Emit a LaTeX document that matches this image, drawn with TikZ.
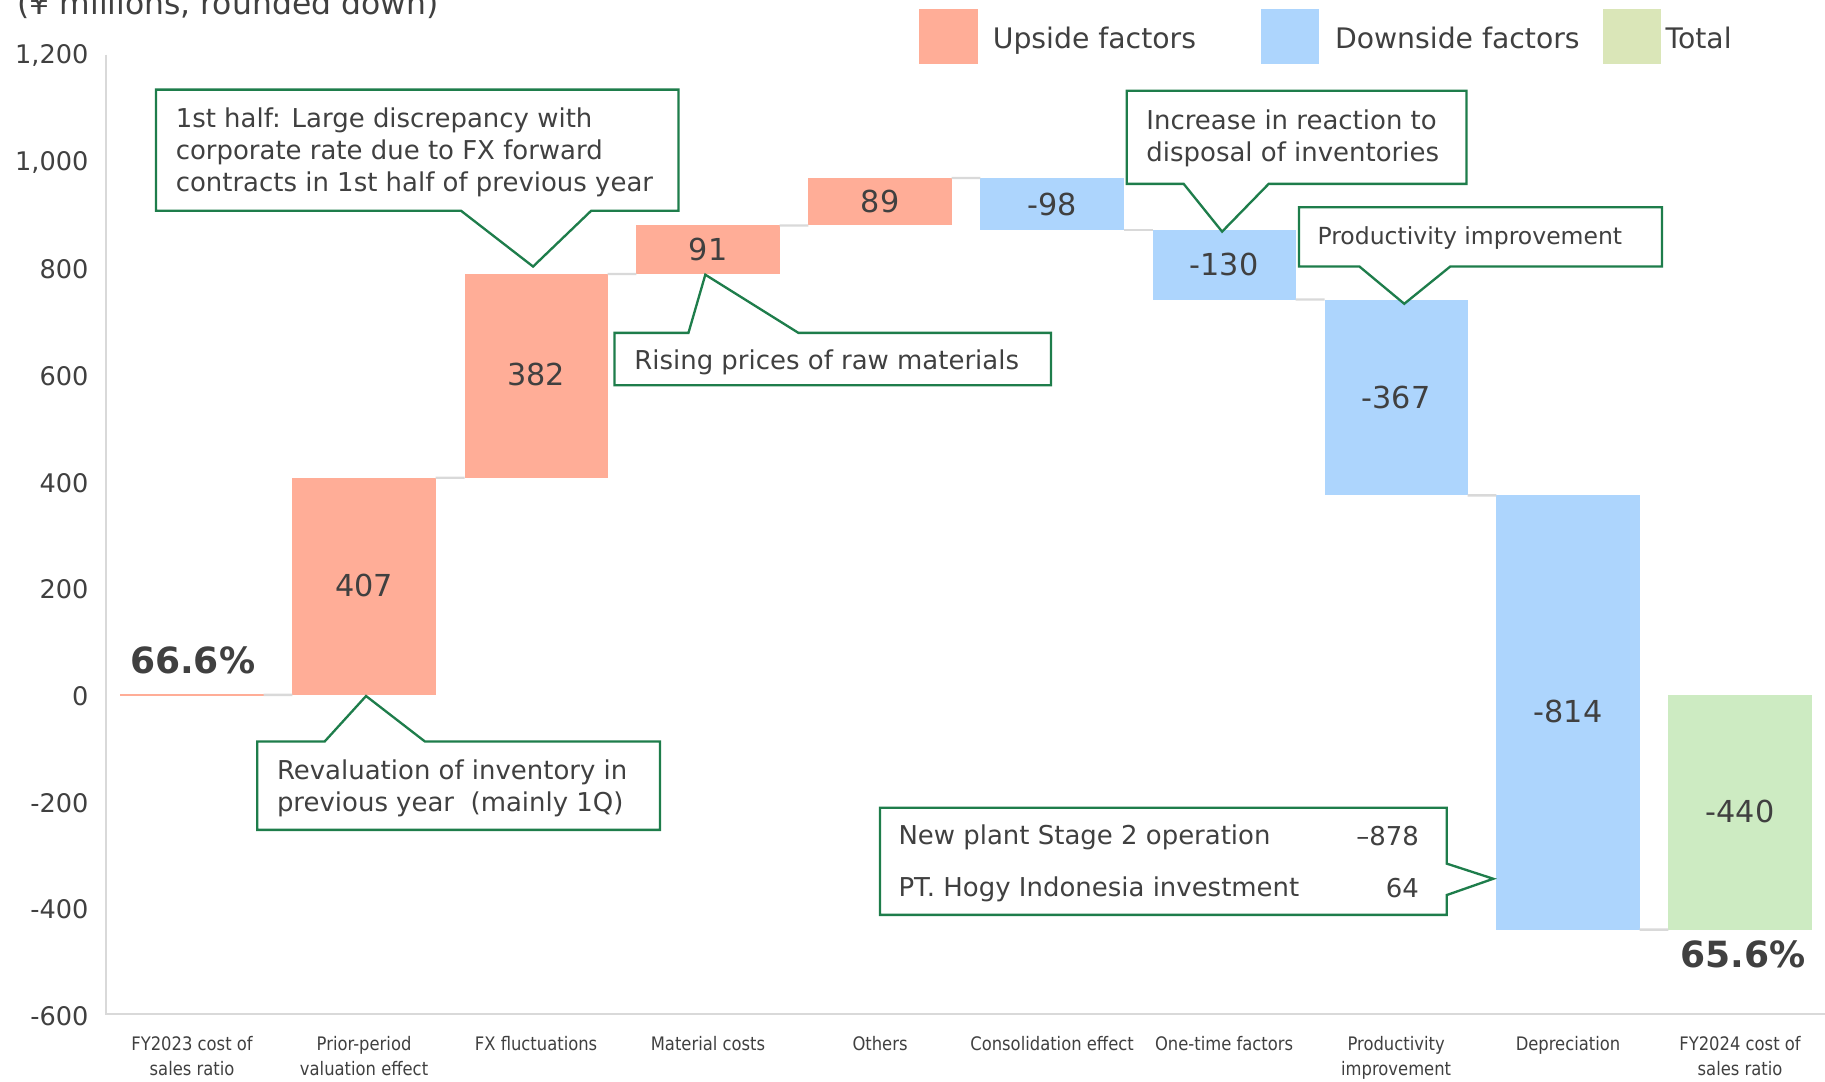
\documentclass[tikz,border=0pt]{standalone}
\usepackage{fontspec}
\setmainfont{DejaVu Sans}
\newfontfamily\condfont[FakeStretch=0.88]{DejaVu Sans}
\definecolor{upc}{RGB}{255,173,151}
\definecolor{downc}{RGB}{173,213,253}
\definecolor{totc}{RGB}{205,235,194}
\definecolor{totleg}{RGB}{218,230,184}
\definecolor{txtgray}{RGB}{64,64,64}
\definecolor{axisgray}{RGB}{217,217,217}
\definecolor{cgreen}{RGB}{30,125,75}
\begin{document}
\begin{tikzpicture}[x=1pt,y=-1pt,
  txt/.style={text=txtgray, inner sep=0pt, outer sep=0pt},
  barbox/.style={minimum width=123pt, inner sep=0pt, outer sep=0pt, text=txtgray, font=\fontsize{26}{30}\selectfont},
  upbar/.style={barbox, fill=upc},
  downbar/.style={barbox, fill=downc},
  totbar/.style={barbox, fill=totc},
  link/.style={draw=axisgray, line width=2pt},
  axisline/.style={draw=axisgray, line width=2pt},
  callout/.style={draw=cgreen, fill=white, line width=2pt, line join=miter},
  ctext/.style={txt, align=left, anchor=west, font=\fontsize{22.3}{27.5}\selectfont},
  ylab/.style={txt, anchor=east, font=\fontsize{22}{26}\selectfont},
  xlab/.style={txt, anchor=north, align=center, font=\condfont\fontsize{16}{22}\selectfont},
  legbox/.style={minimum width=50pt, minimum height=47pt, inner sep=0pt, outer sep=0pt},
  legtext/.style={txt, anchor=base west, font=\fontsize{24.3}{28}\selectfont},
  pct/.style={txt, font=\bfseries\fontsize{31}{36}\selectfont}
]
\useasboundingbox (0,0) rectangle (1568,929);
\clip (0,0) rectangle (1568,929);

% title (cut at the top, as in the reference)
\node[txt, anchor=base west, font=\fontsize{27}{32}\selectfont] (title) at (15,12.5) {(¥ millions, rounded down)};

% axes
\draw[axisline] (91,47) -- (91,871) -- (1568,871);

% y labels
\node[ylab] (y1200) at (76,48) {1,200};
\node[ylab] (y1000) at (76,139.7) {1,000};
\node[ylab] (y800) at (76,231.3) {800};
\node[ylab] (y600) at (76,323) {600};
\node[ylab] (y400) at (76,414.7) {400};
\node[ylab] (y200) at (76,506.3) {200};
\node[ylab] (y0) at (76,598) {0};
\node[ylab] (ym200) at (76,689.7) {-200};
\node[ylab] (ym400) at (76,781.3) {-400};
\node[ylab] (ym600) at (76,873) {-600};

% legend
\node[legbox, fill=upc] (lg1) at (815,31.5) {};
\node[legtext] (lt1) at (853,42) {Upside factors};
\node[legbox, fill=downc] (lg2) at (1108,31.5) {};
\node[legtext] (lt2) at (1147,42) {Downside factors};
\node[legbox, fill=totleg] (lg3) at (1402,31.5) {};
\node[legtext] (lt3) at (1431,42) {Total};

% bars
\node[barbox, fill=upc, minimum height=2pt] (b1) at (165,597) {};
\node[upbar, minimum height=186.54pt] (b2) at (312.8,503.73) {\raisebox{2pt}{407}};
\node[upbar, minimum height=175.08pt] (b3) at (460.6,322.92) {\raisebox{2pt}{382}};
\node[upbar, minimum height=41.71pt] (b4) at (608.3,214.53) {91};
\node[upbar, minimum height=40.79pt] (b5) at (756.1,173.28) {89};
\node[downbar, minimum height=44.91pt] (b6) at (903.9,175.34) {-98};
\node[downbar, minimum height=59.59pt] (b7) at (1051.7,227.59) {-130};
\node[downbar, minimum height=168.2pt] (b8) at (1199.5,341.48) {-367};
\node[downbar, minimum height=373.09pt] (b9) at (1347.2,612.13) {\raisebox{2pt}{-814}};
\node[totbar, minimum height=201.67pt] (b10) at (1495,697.84) {\raisebox{2pt}{-440}};

% connectors between bars
\draw[link] (b1.east) -- (b2.south west);
\draw[link] (b2.north east) -- (b3.south west);
\draw[link] (b3.north east) -- (b4.south west);
\draw[link] (b4.north east) -- (b5.south west);
\draw[link] (b5.north east) -- (b6.north west);
\draw[link] (b6.south east) -- (b7.north west);
\draw[link] (b7.south east) -- (b8.north west);
\draw[link] (b8.south east) -- (b9.north west);
\draw[link] (b9.south east) -- (b10.south west);

% percentages
\node[pct] (p1) at (165.5,567) {66.6\%};
\node[pct] (p2) at (1497.5,820) {65.6\%};

% x labels
\node[xlab] (x1) at (165,890) {FY2023 cost of\\sales ratio};
\node[xlab] (x2) at (312.8,890) {Prior-period\\valuation effect};
\node[xlab] (x3) at (460.6,890) {FX fluctuations};
\node[xlab] (x4) at (608.3,890) {Material costs};
\node[xlab] (x5) at (756.1,890) {Others};
\node[xlab] (x6) at (903.9,890) {Consolidation effect};
\node[xlab] (x7) at (1051.7,890) {One-time factors};
\node[xlab] (x8) at (1199.5,890) {Productivity\\improvement};
\node[xlab] (x9) at (1347.2,890) {Depreciation};
\node[xlab] (x10) at (1495,890) {FY2024 cost of\\sales ratio};

% callouts
\draw[callout] (134,77) -- (583,77) -- (583,181) -- (508,181) -- (458,229) -- (396,181) -- (134,181) -- cycle;
\node[ctext] (c1) at (151,130.5) {1st half: Large discrepancy with\\corporate rate due to FX forward\\contracts in 1st half of previous year};

\draw[callout] (221,637) -- (279,637) -- (314.5,598) -- (365,637) -- (567,637) -- (567,713) -- (221,713) -- cycle;
\node[ctext] (c2) at (238,677) {Revaluation of inventory in\\previous year~ (mainly 1Q)};

\draw[callout] (528,286) -- (591.5,286) -- (606,236) -- (686,286) -- (903,286) -- (903,331) -- (528,331) -- cycle;
\node[ctext] (c3) at (545,311.5) {Rising prices of raw materials};

\draw[callout] (968,78) -- (1260,78) -- (1260,158) -- (1090,158) -- (1050,199) -- (1017,158) -- (968,158) -- cycle;
\node[ctext] (c4) at (985,119) {Increase in reaction to\\disposal of inventories};

\draw[callout] (1116,178) -- (1428,178) -- (1428,229) -- (1246,229) -- (1206.5,261) -- (1168,229) -- (1116,229) -- cycle;
\node[ctext, font=\fontsize{20.2}{24}\selectfont] (c5) at (1132,204.5) {Productivity improvement};

\draw[callout] (756,694) -- (1243,694) -- (1243,742) -- (1283,755) -- (1243,769) -- (1243,786) -- (756,786) -- cycle;
\node[ctext] (c6a) at (772,719) {New plant Stage 2 operation};
\node[txt, anchor=east, font=\fontsize{22.3}{27.5}\selectfont] (c6b) at (1219,718) {–878};
\node[ctext] (c6c) at (772,764) {PT. Hogy Indonesia investment};
\node[txt, anchor=east, font=\fontsize{22.3}{27.5}\selectfont] (c6d) at (1219,763) {64};
\end{tikzpicture}
\end{document}
